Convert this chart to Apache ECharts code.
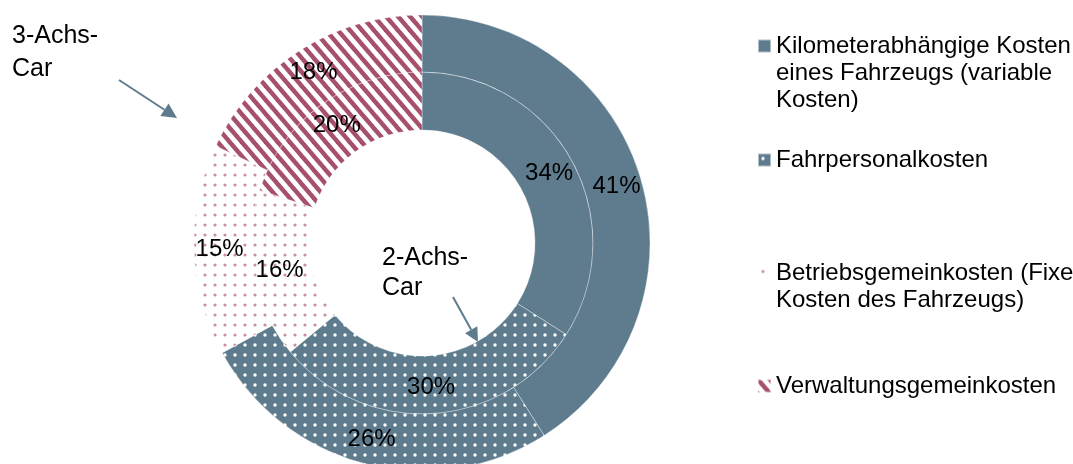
<!DOCTYPE html>
<html>
<head>
<meta charset="utf-8">
<script src="https://cdn.jsdelivr.net/npm/echarts@6/dist/echarts.min.js"></script>
<style>
html,body{margin:0;padding:0;background:#fff;}
#chart{width:1073px;height:464px;}
</style>
</head>
<body>
<div id="chart"></div>
<script>
// ---- data ----
var categories = [
  'Kilometerabhängige Kosten\neines Fahrzeugs (variable\nKosten)',
  'Fahrpersonalkosten',
  'Betriebsgemeinkosten (Fixe\nKosten des Fahrzeugs)',
  'Verwaltungsgemeinkosten'
];
var values2Achs = [34, 30, 16, 20];   // inner ring
var values3Achs = [41, 26, 15, 18];   // outer ring
var ringLabels = ['2-Achs-\nCar', '3-Achs-\nCar'];

// ---- patterns ----
var BLUE = '#5e7c8e';
var MAROON = '#a6506c';
var PINK = '#c98ea2';

function tile(w, h, draw) {
  var c = document.createElement('canvas');
  c.width = w; c.height = h;
  var ctx = c.getContext('2d');
  draw(ctx, w, h);
  return {image: c, repeat: 'repeat'};
}
var fillSolid = BLUE;
var fillBlueDots = tile(10, 10, function (ctx, w, h) {
  ctx.fillStyle = BLUE; ctx.fillRect(0, 0, w, h);
  ctx.fillStyle = '#ffffff';
  ctx.beginPath(); ctx.arc(5, 5, 1.7, 0, Math.PI * 2); ctx.fill();
});
var fillPinkDots = tile(10, 10, function (ctx, w, h) {
  ctx.fillStyle = '#ffffff'; ctx.fillRect(0, 0, w, h);
  ctx.fillStyle = PINK;
  ctx.beginPath(); ctx.arc(5, 5, 1.6, 0, Math.PI * 2); ctx.fill();
});
var fillStripes = tile(12, 14, function (ctx, w, h) {
  ctx.fillStyle = '#ffffff'; ctx.fillRect(0, 0, w, h);
  ctx.strokeStyle = MAROON; ctx.lineWidth = 4.4;
  var sx = w / h;
  [-w, 0, w].forEach(function (o) {
    ctx.beginPath(); ctx.moveTo(o - 4 * sx, -4); ctx.lineTo(o + w + 4 * sx, h + 4); ctx.stroke();
  });
});
var fills = [fillSolid, fillBlueDots, fillPinkDots, fillStripes];

function buildData(vals) {
  return categories.map(function (name, i) {
    return {name: name, value: vals[i], itemStyle: {color: fills[i]}};
  });
}

var FONT = "'Liberation Sans', Arial, sans-serif";
var labelStyle = {
  show: true, position: 'inside', formatter: '{c}%',
  color: '#000', fontSize: 24, fontFamily: FONT
};
var itemBorder = {borderColor: 'rgba(255,255,255,0.5)', borderWidth: 0.7};
var LH = 27;

function legendFor(i, firstLineCenter) {
  var lines = categories[i].split('\n').length;
  var pre = new Array(lines).join('\n');   // (lines-1) empty lines so line 1 sits at the icon
  return {
    data: [categories[i]], orient: 'vertical', left: 757,
    top: firstLineCenter - (2 * lines - 1) * LH / 2, padding: 0,
    itemWidth: 13, itemHeight: 13, itemGap: 0, selectedMode: false,
    icon: 'rect',
    formatter: function (name) { return pre + name; },
    textStyle: {fontSize: 24, fontFamily: FONT, color: '#000', lineHeight: LH}
  };
}

function arrow(x1, y1, x2, y2, head, half) {
  var dx = x2 - x1, dy = y2 - y1, L = Math.sqrt(dx * dx + dy * dy);
  var ux = dx / L, uy = dy / L, nx = -uy, ny = ux;
  var bx = x2 - head * ux, by = y2 - head * uy;
  return [
    {type: 'polyline', shape: {points: [[x1, y1], [bx, by]]}, style: {stroke: BLUE, lineWidth: 2, fill: null}},
    {type: 'polygon', shape: {points: [[x2, y2], [bx + half * nx, by + half * ny], [bx - half * nx, by - half * ny]]}, style: {fill: BLUE}}
  ];
}

var chart = echarts.init(document.getElementById('chart'));
chart.setOption({
  animation: false,
  backgroundColor: '#fff',
  legend: [
    legendFor(0, 46),
    legendFor(1, 160),
    legendFor(2, 273),
    legendFor(3, 386)
  ],
  series: [
    {
      type: 'pie', name: '2-Achs-Car', center: [422, 243], radius: [113, 171],
      startAngle: 90, clockwise: true, silent: true,
      label: labelStyle, labelLine: {show: false},
      itemStyle: itemBorder,
      data: buildData(values2Achs)
    },
    {
      type: 'pie', name: '3-Achs-Car', center: [422, 243], radius: [171, 228],
      startAngle: 90, clockwise: true, silent: true,
      label: labelStyle, labelLine: {show: false},
      itemStyle: itemBorder,
      data: buildData(values3Achs)
    }
  ],
  graphic: [
    {type: 'text', left: 12, top: 20, style: {text: ringLabels[1], font: "25px " + FONT, lineHeight: 33, fill: '#000'}},
    {type: 'text', left: 382, top: 243, style: {text: ringLabels[0], font: "25px " + FONT, lineHeight: 30, fill: '#000'}}
  ].concat(arrow(119, 80, 177, 118, 15, 7.5)).concat(arrow(453, 297, 478, 342, 14, 7))
});
</script>
</body>
</html>
